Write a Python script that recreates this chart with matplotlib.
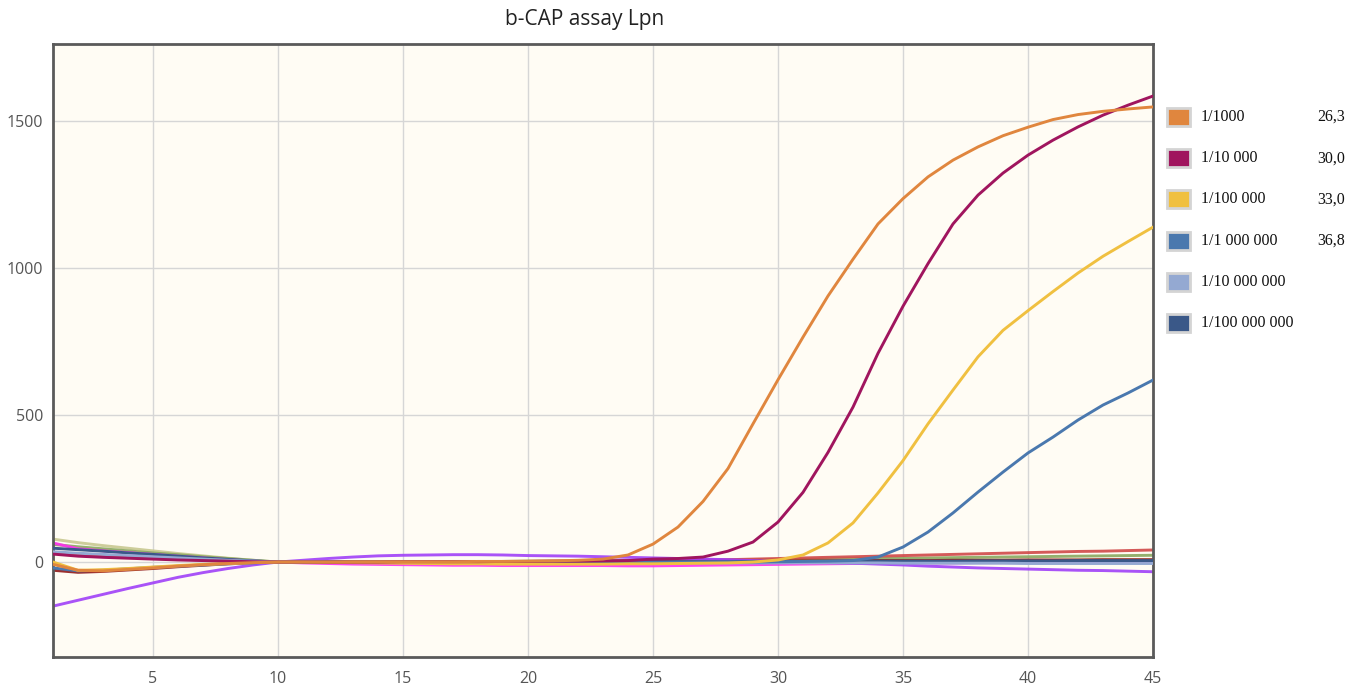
#!/usr/bin/env python3
# -*- coding: utf-8 -*-

import numpy as np
import matplotlib
matplotlib.use('Agg')
import matplotlib.pyplot as plt
from matplotlib.patches import Rectangle

plt.rcParams['font.family'] = ['Open Sans', 'DejaVu Sans']

# 循环数 1..45
cycles = np.arange(1, 46)

# 图例中的稀释梯度
dil_1e3 = [-8, -28, -30, -25, -20, -14, -9, -5, -2, 0, 0, 0, 1, 1, 1, 1, 1, 2, 2, 3, 4, 6, 10, 24, 61,
           119, 206, 318, 470, 620, 765, 905, 1030, 1150, 1236, 1310, 1367, 1412, 1450, 1479, 1505, 1522, 1533, 1541, 1548]
dil_1e4 = [27, 20, 16, 13, 10, 7, 5, 3, 1, 0, 0, 0, 0, 0, 1, 1, 1, 1, 2, 2, 3, 3, 4, 5, 10,
           12, 17, 37, 68, 136, 237, 373, 527, 710, 870, 1015, 1150, 1248, 1323, 1384, 1435, 1480, 1520, 1554, 1585]
dil_1e5 = [0, -28, -26, -22, -17, -12, -8, -5, -2, 0, 0, -1, -2, -3, -4, -5, -6, -6, -7, -7, -7, -7, -7, -6, -6,
           -5, -4, -3, 0, 7, 24, 65, 133, 235, 345, 470, 585, 698, 788, 855, 920, 983, 1040, 1090, 1139]
dil_1e6 = [-20, -30, -28, -23, -18, -14, -10, -6, -3, 0, 0, 0, 0, 0, -1, -1, -1, -1, -1, -1, -1, -1, -1, -1, -1,
           0, 0, 0, 0, 1, 2, 3, 5, 17, 51, 102, 167, 238, 306, 371, 425, 483, 534, 575, 619]
dil_1e7 = [35, 30, 26, 22, 18, 14, 10, 6, 3, 0, -1, -1, -2, -2, -2, -2, -3, -3, -3, -3, -3, -3, -3, -3, -3,
           -3, -3, -3, -3, -3, -3, -3, -3, -3, -4, -4, -4, -4, -4, -5, -5, -5, -5, -5, -5]
dil_1e8 = [47, 42, 37, 31, 26, 20, 14, 9, 4, 0, -1, -1, -1, -1, 0, 0, 0, 0, 0, 0, 0, 0, 0, 0, 1,
           1, 1, 1, 2, 2, 2, 2, 3, 3, 3, 3, 3, 4, 4, 4, 4, 5, 5, 5, 5]

# 其他未标注的曲线
extra_purple = [-150, -130, -110, -90, -71, -52, -36, -22, -10, 0, 6, 12, 17, 21, 23, 24, 25, 25, 24, 22, 21, 20, 18, 16, 14,
                12, 10, 8, 5, 2, 0, -2, -4, -7, -10, -14, -17, -20, -22, -24, -26, -28, -29, -31, -33]
extra_red = [30, 25, 21, 17, 13, 10, 7, 4, 2, 0, -1, -2, -2, -2, -2, -1, -1, 0, 0, 1, 1, 2, 3, 4, 5,
             6, 7, 8, 10, 12, 14, 16, 18, 20, 22, 24, 26, 28, 30, 32, 34, 36, 37, 39, 41]
extra_green = [60, 52, 45, 38, 31, 25, 18, 12, 6, 0, 0, 0, 1, 1, 1, 1, 2, 2, 2, 3, 3, 3, 4, 4, 5,
               5, 6, 7, 7, 8, 9, 10, 11, 12, 13, 14, 15, 16, 17, 18, 19, 20, 21, 22, 23]
extra_olive = [78, 66, 56, 47, 38, 29, 21, 13, 6, 0, 1, 1, 2, 2, 2, 2, 2, 2, 2, 2, 2, 3, 3, 3, 3,
               3, 3, 3, 4, 4, 4, 4, 4, 5, 5, 5, 5, 6, 6, 6, 6, 7, 7, 7, 7]
extra_pink = [65, 45, 38, 32, 26, 20, 14, 8, 3, 0, -3, -5, -7, -8, -9, -10, -11, -11, -12, -12, -12, -12, -12, -13, -13,
              -12, -11, -10, -9, -8, -7, -6, -5, -4, -4, -3, -3, -2, -2, -2, -1, -1, -1, 0, 0]
extra_darkred = [-28, -35, -32, -27, -22, -16, -11, -6, -3, 0, 0, 0, 0, 0, 0, 0, 0, 0, 1, 1, 1, 1, 1, 2, 2,
                 2, 2, 3, 3, 3, 4, 4, 4, 5, 5, 5, 6, 6, 6, 7, 7, 7, 8, 8, 8]

legend_labels = ['1/1000', '1/10 000', '1/100 000', '1/1 000 000', '1/10 000 000', '1/100 000 000']
legend_colors = ['#e0863e', '#a0155e', '#f0c040', '#4a78ae', '#94a9d2', '#3a5888']
legend_ct = ['26,3', '30,0', '33,0', '36,8', '', '']
legend_series = [dil_1e3, dil_1e4, dil_1e5, dil_1e6, dil_1e7, dil_1e8]

extra_series = [extra_olive, extra_green, extra_red, extra_darkred, extra_pink, extra_purple]
extra_colors = ['#c8c890', '#8aa860', '#d04848', '#901818', '#ff30f0', '#a040f8']

fig = plt.figure(figsize=(13.65, 6.87), dpi=100)
ax = fig.add_axes([53 / 1365, 30 / 687, 1100 / 1365, 613 / 687])
ax.set_facecolor('#fffcf4')

for s, c in zip(extra_series, extra_colors):
    ax.plot(cycles, s, color=c, linewidth=2.1, alpha=0.9, zorder=2)
for s, c in reversed(list(zip(legend_series, legend_colors))):
    ax.plot(cycles, s, color=c, linewidth=2.1, zorder=3)

ax.set_xlim(1, 45)
ax.set_ylim(-323, 1762)
ax.set_xticks(range(5, 46, 5))
ax.set_yticks([0, 500, 1000, 1500])
ax.grid(True, color='#d6d6d6', linewidth=1)
ax.set_axisbelow(True)
ax.tick_params(length=0, labelsize=11.5, labelcolor='#555555')
ax.tick_params(axis='x', pad=10)
ax.tick_params(axis='y', pad=7)
for sp in ax.spines.values():
    sp.set_color('#5a5a5a')
    sp.set_linewidth(2)

fig.text(585 / 1365, 1 - 20 / 687, 'b-CAP assay Lpn', ha='center', va='center', fontsize=15, color='#222222')

# 手绘图例
for i, (lab, col, ct) in enumerate(zip(legend_labels, legend_colors, legend_ct)):
    yc = 117 + i * 41.2
    fig.add_artist(Rectangle((1167 / 1365, 1 - (yc + 9) / 687), 23 / 1365, 18 / 687,
                             transform=fig.transFigure, facecolor=col, edgecolor='#d4d4d4', linewidth=2))
    fig.text(1201 / 1365, 1 - yc / 687, lab, ha='left', va='center', fontsize=11.5,
             family='Liberation Serif', color='#111111')
    if ct:
        fig.text(1317 / 1365, 1 - yc / 687, ct, ha='left', va='center', fontsize=11.5,
                 family='Liberation Serif', color='#111111')

plt.savefig('out.png', dpi=100)
plt.close()
